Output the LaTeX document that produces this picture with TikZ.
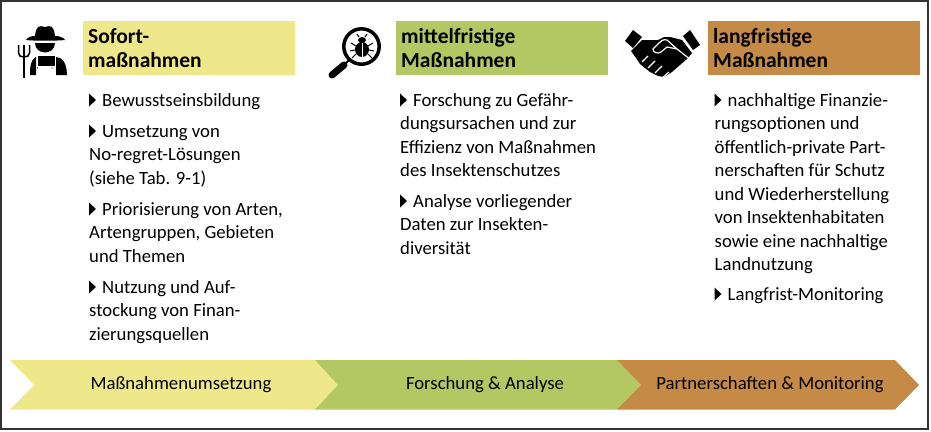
\documentclass[tikz,border=0pt]{standalone}
\usepackage{fontspec}
\setmainfont{Carlito}
\definecolor{earlyc}{HTML}{EEE88A}
\definecolor{midc}{HTML}{B3C762}
\definecolor{latec}{HTML}{C58A46}
\tikzset{
  headbox/.style={anchor=north west,minimum width=212pt,minimum height=54pt,inner xsep=5pt,inner ysep=0pt,
    align=left,font=\fontsize{21.5}{24}\selectfont\bfseries,text width=202pt},
  itemtext/.style={anchor=north west,inner sep=0pt,align=left,font=\fontsize{18.7}{23.5}\selectfont},
  arrowtext/.style={font=\fontsize{18.7}{22}\selectfont},
}
\newcommand{\itemstart}{\rule{0pt}{14pt}\hspace{13pt}}
\begin{document}
\begin{tikzpicture}[x=1pt,y=-1pt]

  \useasboundingbox (0,0) rectangle (931,431);
  \draw[line width=1.5pt,black!80] (1,1) rectangle (928,429);

  % heading boxes
  \node[headbox,fill=earlyc] (headA) at (83,21) {Sofort-\\maßnahmen};
  \node[headbox,fill=midc] (headB) at (396,21) {mittelfristige\\Maßnahmen};
  \node[headbox,fill=latec] (headC) at (708,21) {langfristige\\Maßnahmen};

  % first column
  \node[itemtext] (a1) at (89,92) {\itemstart Bewusstseinsbildung};
  \node[itemtext] (a2) at (89,123) {\itemstart Umsetzung von\\No-regret-Lösungen\\(siehe Tab. 9-1)};
  \node[itemtext] (a3) at (89,201) {\itemstart Priorisierung von Arten,\\Artengruppen, Gebieten\\und Themen};
  \node[itemtext] (a4) at (89,279) {\itemstart Nutzung und Auf-\\stockung von Finan-\\zierungsquellen};

  % second column
  \node[itemtext] (b1) at (400,92) {\itemstart Forschung zu Gefähr-\\dungsursachen und zur\\Effizienz von Maßnahmen\\des Insektenschutzes};
  \node[itemtext] (b2) at (400,193) {\itemstart Analyse vorliegender\\Daten zur Insekten-\\diversität};

  % third column
  \node[itemtext] (c1) at (714.5,92) {\itemstart nachhaltige Finanzie-\\rungsoptionen und\\öffentlich-private Part-\\nerschaften für Schutz\\und Wiederherstellung\\von Insektenhabitaten\\sowie eine nachhaltige\\Landnutzung};
  \node[itemtext] (c2) at (714.5,286) {\itemstart Langfrist-Monitoring};

  % triangles in front of the items
  \foreach \item in {a1,a2,a3,a4,b1,b2,c1,c2}
  {
    \fill ([yshift=-1.5pt]\item.north west) -- ++(7,6.5) -- ++(-7,6.5) -- cycle;
  }

  % bottom arrows
  \fill[earlyc] (10,360) -- (315,360) -- (338,385) -- (315,409.5) -- (10,409.5) -- (34,385) -- cycle;
  \fill[midc] (315,360) -- (617,360) -- (641,385) -- (617,409.5) -- (315,409.5) -- (338,385) -- cycle;
  \fill[latec] (617,360) -- (895,360) -- (919,385) -- (895,409.5) -- (617,409.5) -- (641,385) -- cycle;
  \node[arrowtext] (arrA) at (181,385) {Maßnahmenumsetzung};
  \node[arrowtext] (arrB) at (485,385) {Forschung \& Analyse};
  \node[arrowtext] (arrC) at (770,385) {Partnerschaften \& Monitoring};

  % farmer
  \fill (35,36) .. controls (36,26) and (39,25) .. (45,27) .. controls (51,25) and (54,26) .. (55,36)
    .. controls (59,36) and (63,37) .. (65,40) .. controls (55,41) and (35,41) .. (26,40) .. controls (28,37) and (31,36) .. (35,36) -- cycle;
  \fill (35,43) -- (55,43) .. controls (55,49) and (50,52.5) .. (45,52.5) .. controls (40,52.5) and (35,49) .. (35,43) -- cycle;
  \fill (30,75) .. controls (30,66) and (31,60) .. (35,57.5) -- (36,57) -- (36,75) -- cycle;
  \fill (56,57) -- (60,58) .. controls (65,60) and (67,68) .. (67,75) -- (56,75) -- cycle;
  \fill (38,56) rectangle (54.5,66);
  \fill (37.5,68) circle (0.7) (52,68) circle (0.7);
  \draw[line width=2pt] (24,50) -- (24,78);
  \draw[line width=1.5pt] (18.5,45) -- (18.5,53) .. controls (18.5,56) and (21,57) .. (24,57) .. controls (27,57) and (29.5,56) .. (29.5,53) -- (29.5,45);
  \draw[line width=1.5pt] (24,45) -- (24,52);

  % magnifier with bug
  \draw[line width=3.5pt] (361.5,46.5) circle (17.7);
  \draw[line width=2pt] (349,60) -- (344,65);
  \draw[line width=7pt,line cap=round] (344,65) -- (332,75);
  \fill (362,49.5) ellipse (7 and 7.5);
  \fill (362,40) ellipse (4 and 3);
  \draw[white,line width=0.7pt] (362,43) -- (362,57);
  \draw[line width=1pt] (356,46) -- (351,43) (368,46) -- (373,43)
    (355,50) -- (350,51) (369,50) -- (374,51)
    (356,54) -- (352,58) (368,54) -- (372,58)
    (359,37) -- (357,34) (365,37) -- (367,34);

  % handshake
  \fill (625,41) -- (633,30) -- (642,37) -- (633,48) -- cycle;
  \fill (683,36) -- (690,30) -- (700,45) -- (693,50) -- cycle;
  \fill (642,40) -- (658,40) -- (664,37) -- (670,37) -- (682,40) -- (692,53) -- (688,58)
    -- (672,72) -- (664,77) -- (658,76) -- (650,72) -- (640,64) -- (636,58) -- (631,51) -- cycle;
  \draw[white,line width=1.2pt] (691,60) -- (677,49) -- (667,40) .. controls (663,39) and (661,41) .. (659,43)
    -- (653,49) .. controls (653,53) and (658,54) .. (661,52) -- (667,47) -- (677,49);
  \draw[white,line width=1.2pt] (642,62) -- (648,56) (648,68) -- (655,61) (655,73) -- (662,66) (662,78) -- (669,72);

\end{tikzpicture}
\end{document}
